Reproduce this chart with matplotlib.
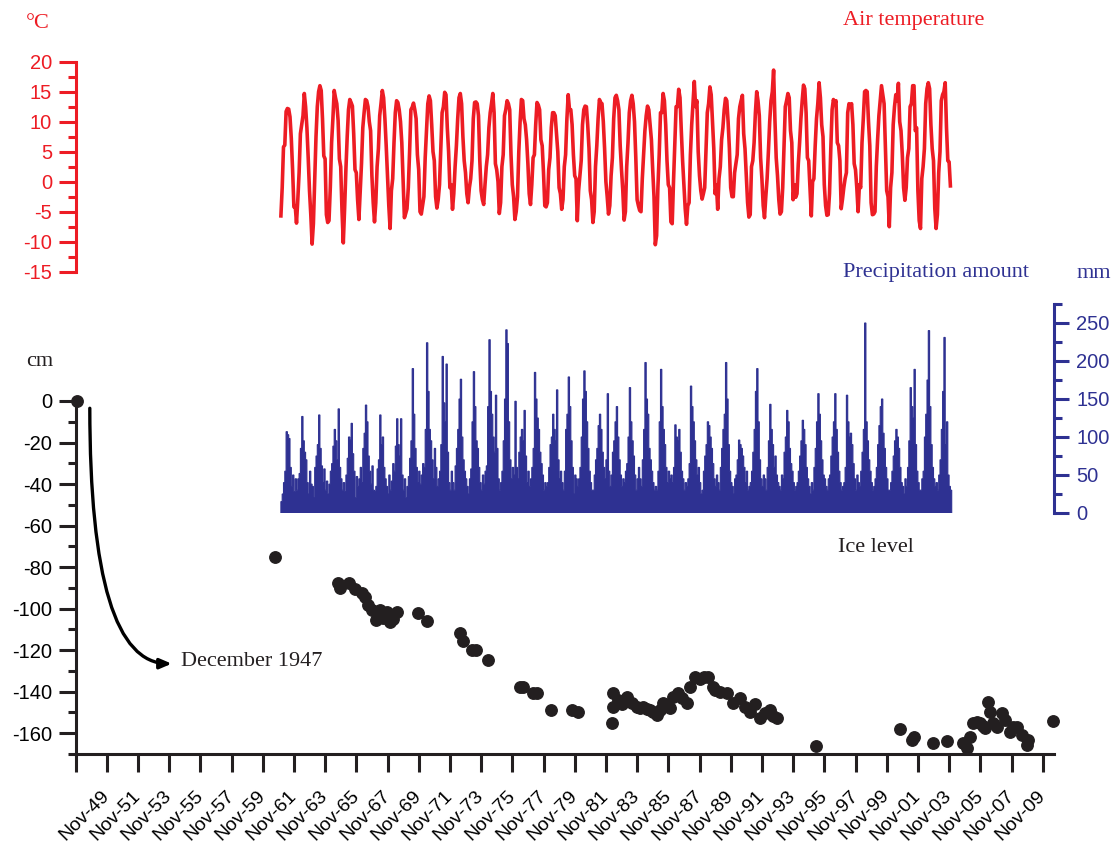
import matplotlib
matplotlib.use("Agg")
import matplotlib.pyplot as plt
import numpy as np
from matplotlib.ticker import FixedLocator, MultipleLocator

plt.rcParams['font.family'] = ['Liberation Sans', 'DejaVu Sans']
plt.rcParams['axes.unicode_minus'] = False

RED = '#ed1c24'
BLUE = '#2e3192'
BLACK = '#231f20'
SERIF = ['Liberation Serif', 'DejaVu Serif']

#=======================================================
# monthly air temperature (deg C), Jan 1961 .. Dec 2003, one row per year
first_year = 1961
temp_rows = [
    [-5.7, -1.0, 5.8, 6.1, 11.7, 12.2, 12.1, 10.8, 7.2, 2.0, -4.2, -4.0],
    [-6.9, -3.0, 1.5, 8.0, 9.5, 11.0, 14.7, 12.5, 9.0, 4.0, -1.5, -5.5],
    [-10.4, -7.0, 0.5, 7.5, 12.5, 15.0, 16.0, 15.2, 10.5, 4.3, 3.8, -5.5],
    [-6.8, -6.5, -1.0, 6.5, 10.5, 15.2, 14.0, 13.0, 10.2, 3.8, 2.5, -4.8],
    [-10.2, -4.5, 2.0, 7.5, 12.0, 13.7, 13.2, 12.6, 8.0, 2.0, 1.5, -3.0],
    [-6.3, -1.5, 3.0, 9.0, 11.5, 13.7, 13.5, 12.5, 10.0, 8.5, 1.0, -3.5],
    [-6.7, -3.5, 2.5, 5.5, 11.0, 13.0, 15.2, 14.0, 10.5, 6.0, 1.0, -4.0],
    [-7.8, -1.5, 0.5, 6.5, 11.5, 13.5, 13.2, 12.0, 10.0, 6.5, 0.5, -6.0],
    [-5.3, -4.5, -1.0, 5.0, 12.0, 12.4, 13.1, 12.0, 10.5, 4.5, 2.0, -5.0],
    [-5.4, -4.0, -2.5, 4.0, 8.5, 13.0, 14.3, 13.5, 9.5, 5.0, 3.5, -2.5],
    [-4.4, -3.0, -0.5, 5.5, 11.5, 12.5, 14.9, 14.5, 9.0, 5.0, -1.0, -0.5],
    [-4.6, -2.0, 2.5, 6.0, 10.5, 14.0, 14.7, 13.0, 7.5, 3.5, 1.5, -2.0],
    [-3.5, -1.0, 0.5, 3.5, 10.5, 13.2, 13.3, 13.0, 11.0, 3.5, -1.5, -3.0],
    [-3.8, -0.5, 2.5, 4.5, 9.0, 11.5, 13.0, 14.7, 11.5, 3.0, 2.0, 0.0],
    [-5.3, -3.5, 2.5, 4.5, 11.0, 12.0, 13.5, 13.0, 12.0, 4.5, -0.5, -2.5],
    [-6.3, -5.0, -2.5, 5.0, 10.0, 13.7, 13.5, 10.5, 9.5, 7.0, 3.0, -2.0],
    [-3.8, -0.5, 4.0, 4.5, 9.5, 13.2, 12.8, 12.0, 7.0, 6.0, 1.5, -4.0],
    [-4.2, -3.5, 2.0, 4.0, 9.0, 11.5, 11.5, 11.0, 8.0, 5.0, -1.0, -2.0],
    [-4.6, -3.0, 2.5, 4.5, 10.5, 14.5, 12.0, 12.0, 9.5, 4.5, 1.0, 0.5],
    [-6.5, -1.5, 1.0, 3.5, 9.5, 12.0, 12.6, 12.5, 9.5, 5.5, -1.5, -3.0],
    [-6.8, -5.0, 2.5, 6.0, 10.5, 13.7, 13.2, 13.0, 10.0, 5.5, 0.0, -2.5],
    [-5.4, -4.0, 1.0, 4.0, 10.5, 14.0, 14.4, 13.5, 12.0, 6.0, 2.0, -1.5],
    [-6.4, -5.0, 2.5, 6.5, 11.5, 13.5, 14.4, 13.0, 10.0, 4.0, -3.0, -4.0],
    [-4.8, -5.0, 0.5, 4.5, 8.5, 11.0, 12.6, 12.0, 9.5, 7.0, 2.0, -2.5],
    [-10.5, -9.0, -1.0, 4.5, 11.5, 11.5, 14.7, 13.5, 9.5, 3.5, -0.5, -1.0],
    [-6.7, -7.0, 0.0, 6.0, 12.5, 12.5, 15.4, 14.0, 8.5, 3.5, -0.5, -4.5],
    [-7.1, -4.0, -3.5, 4.5, 9.5, 13.0, 16.7, 12.5, 13.5, 5.0, 1.0, -1.5],
    [-2.9, -2.0, -1.0, 5.5, 11.5, 13.0, 15.8, 14.5, 10.0, 5.5, -2.0, -0.5],
    [-4.6, 0.5, 2.5, 7.0, 9.0, 12.0, 13.9, 13.5, 10.0, 5.5, -1.0, -2.5],
    [-2.5, 1.5, 3.0, 4.5, 10.5, 12.5, 13.5, 14.4, 8.0, 5.5, 1.0, -3.5],
    [-5.9, -5.5, 2.5, 3.5, 6.5, 11.5, 15.0, 13.5, 11.0, 4.0, 0.5, -4.0],
    [-6.0, -2.5, 0.5, 5.0, 10.0, 13.5, 15.0, 18.6, 10.5, 4.0, 1.0, -3.0],
    [-5.4, -5.0, -1.0, 6.0, 12.5, 13.5, 14.7, 14.0, 8.5, 6.5, -3.0, -0.5],
    [-2.6, -2.0, 3.0, 6.5, 10.5, 13.5, 16.1, 15.5, 11.5, 4.0, 3.5, -1.0],
    [-5.7, 0.0, 0.5, 6.0, 10.5, 13.0, 16.5, 14.0, 9.5, 7.5, -0.5, -4.0],
    [-5.6, -5.5, -2.0, 5.5, 12.0, 13.7, 13.0, 13.5, 6.5, 6.0, 3.5, -4.5],
    [-2.9, -1.0, 0.5, 1.5, 11.5, 13.0, 12.5, 13.0, 9.5, 3.0, 2.0, -1.0],
    [-5.0, -0.5, -1.0, 6.5, 10.5, 15.0, 15.2, 15.0, 10.0, 6.0, -3.5, -5.5],
    [-5.4, -5.0, 2.5, 7.0, 11.0, 13.5, 16.0, 14.5, 13.0, 6.0, -1.5, -2.5],
    [-7.5, -1.0, 1.5, 9.5, 12.5, 14.5, 13.5, 16.4, 10.0, 8.5, 4.5, -1.0],
    [-3.1, -1.0, 4.0, 5.5, 12.5, 13.0, 16.0, 16.0, 8.5, 9.0, -1.5, -6.5],
    [-7.8, 0.5, 2.5, 5.5, 13.0, 15.5, 16.5, 15.5, 9.5, 5.5, 3.5, -4.5],
    [-7.8, -5.5, 1.5, 5.0, 13.5, 14.5, 15.0, 16.5, 9.0, 3.5, 3.3, -0.7],
]

# monthly precipitation amount (mm), same months
precip_rows = [
    [15, 25, 40, 55, 107, 103, 98, 60, 35, 50, 28, 45],
    [30, 45, 52, 85, 127, 95, 80, 70, 40, 25, 55, 38],
    [35, 20, 60, 75, 90, 129, 85, 62, 40, 58, 30, 42],
    [25, 38, 55, 65, 88, 110, 95, 70, 137, 60, 45, 30],
    [40, 28, 50, 72, 100, 96, 118, 78, 55, 20, 48, 35],
    [45, 60, 40, 85, 105, 142, 120, 75, 55, 38, 62, 30],
    [28, 35, 58, 70, 129, 90, 100, 60, 45, 35, 25, 50],
    [30, 42, 65, 55, 88, 124, 90, 75, 124, 50, 30, 45],
    [20, 35, 48, 72, 95, 190, 130, 85, 60, 40, 55, 38],
    [50, 65, 60, 110, 224, 160, 110, 95, 70, 45, 85, 60],
    [35, 45, 55, 90, 206, 145, 120, 196, 80, 40, 30, 55],
    [40, 30, 62, 85, 110, 150, 176, 100, 70, 55, 45, 35],
    [25, 45, 58, 120, 186, 140, 95, 85, 60, 40, 30, 50],
    [38, 55, 62, 140, 228, 160, 130, 100, 80, 155, 85, 45],
    [30, 40, 55, 95, 150, 241, 223, 120, 70, 45, 60, 50],
    [147, 60, 45, 80, 100, 110, 95, 135, 75, 40, 55, 35],
    [45, 60, 85, 185, 150, 125, 110, 80, 65, 50, 30, 40],
    [35, 40, 60, 90, 100, 130, 110, 95, 162, 70, 45, 55],
    [40, 30, 55, 110, 130, 179, 140, 95, 60, 25, 50, 45],
    [35, 45, 60, 100, 150, 187, 160, 120, 85, 55, 40, 30],
    [30, 50, 70, 85, 115, 130, 110, 80, 60, 45, 70, 157],
    [55, 35, 50, 80, 95, 120, 140, 100, 70, 50, 35, 45],
    [40, 55, 65, 100, 165, 120, 95, 75, 50, 30, 45, 60],
    [45, 35, 70, 110, 198, 150, 130, 85, 70, 55, 40, 30],
    [35, 30, 55, 120, 189, 140, 110, 90, 60, 40, 55, 45],
    [50, 40, 60, 116, 100, 95, 110, 80, 55, 45, 30, 40],
    [35, 45, 65, 167, 140, 120, 95, 70, 50, 60, 40, 25],
    [30, 55, 75, 90, 120, 115, 100, 85, 65, 45, 35, 50],
    [40, 30, 60, 85, 110, 130, 198, 150, 90, 55, 40, 35],
    [25, 45, 50, 70, 96, 90, 85, 75, 60, 40, 55, 30],
    [35, 40, 55, 80, 110, 160, 190, 120, 70, 45, 35, 50],
    [45, 30, 60, 95, 143, 110, 90, 60, 75, 50, 40, 35],
    [30, 50, 45, 80, 100, 135, 120, 85, 65, 55, 40, 30],
    [35, 40, 55, 75, 95, 122, 110, 90, 60, 45, 35, 25],
    [40, 30, 60, 85, 120, 157, 130, 95, 70, 50, 45, 35],
    [30, 45, 50, 75, 100, 120, 157, 110, 80, 55, 40, 30],
    [35, 40, 60, 155, 120, 100, 105, 90, 65, 45, 30, 50],
    [40, 35, 55, 80, 110, 250, 120, 95, 70, 55, 40, 30],
    [35, 45, 60, 90, 115, 140, 150, 105, 85, 60, 45, 30],
    [30, 40, 55, 75, 95, 110, 100, 85, 60, 40, 35, 25],
    [45, 35, 60, 95, 165, 140, 125, 189, 90, 55, 40, 30],
    [30, 45, 55, 100, 130, 175, 240, 140, 90, 60, 45, 35],
    [40, 30, 50, 70, 110, 160, 231, 90, 120, 50, 35, 30],
]

# ice level measurements: decimal year, level (cm)
ice_year = [1947.92, 1960.64, 1964.64, 1964.79, 1965.38, 1965.75, 1966.18, 1966.39,
            1966.60, 1966.82, 1967.09, 1967.35, 1967.54, 1967.67, 1967.83, 1967.99,
            1968.20, 1968.42, 1969.80, 1970.38, 1972.48, 1972.65, 1973.23, 1973.50,
            1974.29, 1976.32, 1976.51, 1977.18, 1977.43, 1978.29, 1979.64, 1980.06,
            1982.20, 1982.27, 1982.30, 1982.62, 1982.86, 1983.16, 1983.48, 1983.80,
            1984.01, 1984.23, 1984.46, 1984.66, 1984.85, 1985.12, 1985.30, 1985.51,
            1985.75, 1985.94, 1986.15, 1986.47, 1986.71, 1987.01, 1987.22, 1987.54,
            1987.86, 1988.12, 1988.39, 1988.71, 1988.82, 1989.14, 1989.57, 1990.00,
            1990.43, 1990.75, 1991.07, 1991.39, 1991.71, 1992.03, 1992.35, 1992.54,
            1992.78, 1995.30, 2000.68, 2001.43, 2001.58, 2002.82, 2003.71, 2004.70,
            2004.96, 2005.17, 2005.38, 2005.60, 2005.81, 2006.00, 2006.13, 2006.34,
            2006.45, 2006.66, 2006.90, 2007.20, 2007.41, 2007.73, 2007.92, 2008.16,
            2008.48, 2008.80, 2008.91, 2010.47]
ice_level = [0, -75.1, -87.8, -90.2, -87.8, -90.7, -92.6, -94.2,
             -98.2, -100.6, -105.4, -100.6, -104.5, -103.0, -101.5, -106.2,
             -105.0, -101.4, -102.2, -105.9, -111.5, -115.4, -119.9, -119.9,
             -124.7, -137.8, -137.5, -140.8, -140.8, -148.8, -148.8, -150.0,
             -154.9, -147.2, -140.8, -144.0, -146.0, -142.4, -145.6, -147.2,
             -148.0, -147.2, -148.5, -148.8, -150.0, -151.2, -149.0, -145.6,
             -147.0, -148.0, -142.4, -140.8, -143.0, -145.6, -137.6, -132.7,
             -134.0, -133.0, -132.7, -137.6, -139.1, -140.0, -140.8, -145.6,
             -143.2, -147.2, -149.6, -146.0, -152.8, -150.4, -148.8, -151.5,
             -152.8, -166.0, -157.9, -163.2, -161.6, -164.5, -163.7, -164.8,
             -167.3, -161.6, -155.2, -154.5, -155.2, -156.5, -157.6, -144.8,
             -150.0, -155.0, -157.0, -150.4, -153.6, -159.2, -157.0, -156.8,
             -160.8, -165.6, -163.2, -153.9]

tick_years = [1947 + 2 * k for k in range(32)]
tick_labels = [''] + ['Nov-%02d' % (y % 100) for y in tick_years[1:]]

#=======================================================
temp = np.array(temp_rows).ravel()
precip = np.array(precip_rows).ravel()
months = first_year + np.arange(len(temp)) / 12.0
edges = first_year + np.arange(len(precip) + 1) / 12.0

x0 = 1947 + 10 / 12.0
xlim = (x0, x0 + 978.5 / 15.6)

W, H = 1115, 849
fig = plt.figure(figsize=(W / 100, H / 100), dpi=100)

def px_axes(left, top, right, bottom):
    return fig.add_axes([left / W, 1 - bottom / H, (right - left) / W, (bottom - top) / H])

ax_t = px_axes(75.5, 61.7, 1054, 271.7)
ax_p = px_axes(75.5, 304, 1054, 513)
ax_i = px_axes(75.5, 401, 1054, 754)
for a in (ax_t, ax_p, ax_i):
    a.set_xlim(*xlim)
    a.patch.set_visible(False)
    for s in a.spines.values():
        s.set_visible(False)

#-------------------------------------------------------
# air temperature
ax_t.plot(months, temp, color=RED, lw=2.6, solid_joinstyle='round')
ax_t.set_ylim(-15, 20)
ax_t.spines['left'].set_visible(True)
ax_t.spines['left'].set_color(RED)
ax_t.spines['left'].set_linewidth(2.2)
ax_t.set_xticks([])
ax_t.yaxis.set_major_locator(MultipleLocator(5))
ax_t.yaxis.set_minor_locator(MultipleLocator(2.5))
ax_t.tick_params(axis='y', which='major', direction='out', length=12, width=2.2,
                 color=RED, labelcolor=RED, labelsize=14.5, pad=5)
ax_t.tick_params(axis='y', which='minor', direction='out', length=6, width=2.2, color=RED)

#-------------------------------------------------------
# precipitation
ax_p.stairs(precip, edges, fill=True, color=BLUE, linewidth=0)
ax_p.stairs(precip, edges, color=BLUE, linewidth=0.8)
ax_p.set_ylim(0, 275)
ax_p.spines['right'].set_visible(True)
ax_p.spines['right'].set_color(BLUE)
ax_p.spines['right'].set_linewidth(2.2)
ax_p.set_xticks([])
ax_p.yaxis.tick_right()
ax_p.yaxis.set_major_locator(FixedLocator([0, 50, 100, 150, 200, 250]))
ax_p.yaxis.set_minor_locator(FixedLocator([25, 75, 125, 175, 225, 275]))
ax_p.tick_params(axis='y', which='major', direction='out', length=11, width=2.2,
                 color=BLUE, labelcolor=BLUE, labelsize=14.5, pad=5)
ax_p.tick_params(axis='y', which='minor', direction='out', length=6, width=2.2, color=BLUE)

#-------------------------------------------------------
# ice level
ax_i.scatter(ice_year, ice_level, s=68, color=BLACK, zorder=3, clip_on=False)
ax_i.set_ylim(-170, 0)
for side in ('left', 'bottom'):
    ax_i.spines[side].set_visible(True)
    ax_i.spines[side].set_color(BLACK)
    ax_i.spines[side].set_linewidth(2.2)
ax_i.yaxis.set_major_locator(FixedLocator(list(range(0, -161, -20))))
ax_i.yaxis.set_minor_locator(FixedLocator(list(range(-10, -171, -20))))
ax_i.tick_params(axis='y', which='major', direction='out', length=12, width=2.2,
                 color=BLACK, labelsize=14.5, pad=5)
ax_i.tick_params(axis='y', which='minor', direction='out', length=6, width=2.2, color=BLACK)
ax_i.set_xticks([y + 10 / 12.0 for y in tick_years])
ax_i.set_xticklabels(tick_labels, rotation=45, ha='right', va='center',
                     rotation_mode='anchor')
ax_i.tick_params(axis='x', direction='out', length=13, width=2.2, color=BLACK,
                 labelsize=14, pad=15)

ax_i.annotate('', xy=(1954.0, -126.5), xytext=(1948.75, -3.5),
              arrowprops=dict(arrowstyle='-|>,head_length=0.7,head_width=0.3',
                              connectionstyle='angle3,angleA=90,angleB=0',
                              lw=2.4, color='black', shrinkA=0, shrinkB=0))

#-------------------------------------------------------
# labels
def ptext(x, y, s, color, **kw):
    fig.text(x / W, 1 - y / H, s, color=color, family=SERIF, fontsize=16,
             va='center', **kw)

ptext(26, 23, '°C', RED)
ptext(843, 20, 'Air temperature', RED)
ptext(843, 273, 'Precipitation amount', BLUE)
ptext(1077, 273, 'mm', BLUE)
ptext(26, 362, 'cm', BLACK)
ptext(838, 547, 'Ice level', BLACK)
ptext(181, 661, 'December 1947', BLACK)

fig.savefig('out.png', dpi=100)
